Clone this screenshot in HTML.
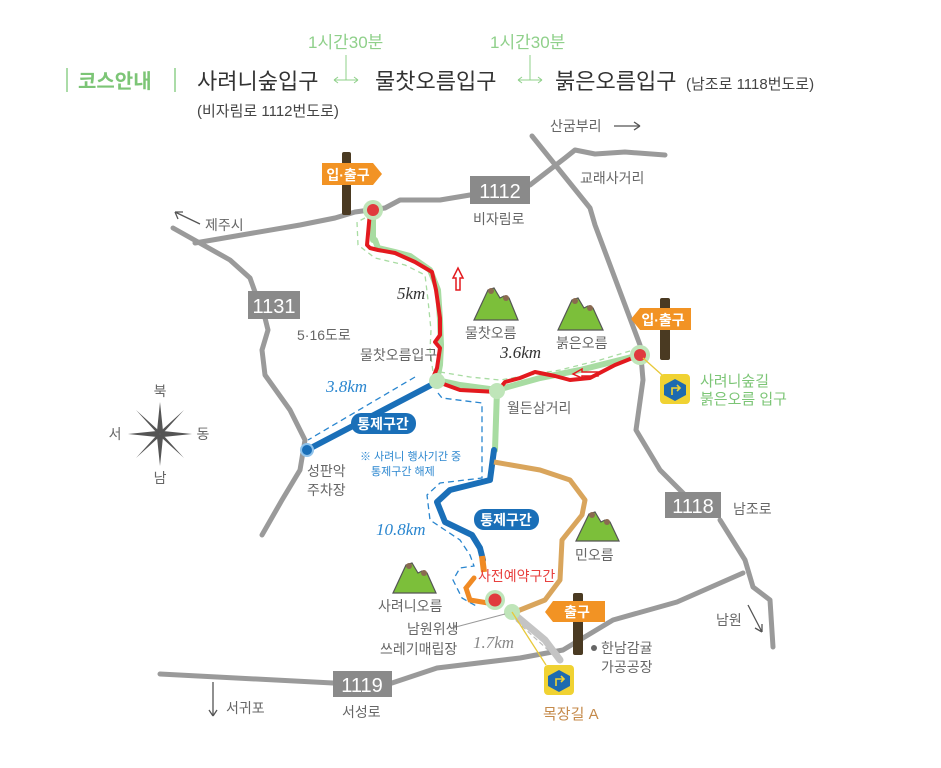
<!DOCTYPE html>
<html><head><meta charset="utf-8"><style>
html,body{margin:0;padding:0;background:#fff;}
svg{display:block;}
text{font-family:"Liberation Sans","Noto Sans CJK KR",sans-serif;}
.g{fill:#666;font-size:14px;}
.km{font-family:"Liberation Serif",serif;font-style:italic;font-size:17px;}
</style></head><body>
<svg width="941" height="768" viewBox="0 0 941 768" xmlns="http://www.w3.org/2000/svg">
<!-- header -->
<line x1="67" y1="68" x2="67" y2="92" stroke="#8fd08a" stroke-width="1.5"/>
<text x="78" y="88" font-size="20" fill="#7cc576" font-weight="bold">코스안내</text>
<line x1="175" y1="68" x2="175" y2="92" stroke="#8fd08a" stroke-width="1.5"/>
<text x="197" y="89" font-size="22" fill="#333">사려니숲입구</text>
<text x="197" y="116" font-size="15" fill="#444">(비자림로 1112번도로)</text>
<text x="308" y="48" font-size="17" fill="#8fd08a">1시간30분</text>
<line x1="346" y1="55" x2="346" y2="80" stroke="#8fd08a"/>
<path d="M334 80 H358 M334 80 l4 -3 M334 80 l4 3 M358 80 l-4 -3 M358 80 l-4 3" stroke="#8fd08a" fill="none"/>
<text x="375" y="89" font-size="22" fill="#333">물찻오름입구</text>
<text x="490" y="48" font-size="17" fill="#8fd08a">1시간30분</text>
<line x1="530" y1="55" x2="530" y2="80" stroke="#8fd08a"/>
<path d="M518 80 H542 M518 80 l4 -3 M518 80 l4 3 M542 80 l-4 -3 M542 80 l-4 3" stroke="#8fd08a" fill="none"/>
<text x="555" y="89" font-size="22" fill="#333">붉은오름입구</text>
<text x="686" y="89" font-size="15" fill="#444">(남조로 1118번도로)</text>

<!-- roads -->
<g fill="none" stroke="#9a9a9a" stroke-width="5" stroke-linejoin="round" stroke-linecap="round">
<path d="M195 243 L300 225 L335 218 L355 212 L385 208 L400 200 L440 200 L470 195"/>
<path d="M530 185 L552 168 L565 158 L575 150 L595 154 L625 152 L665 155"/>
<path d="M532 136 L590 208 L595 225 L640 345 L643 380 L636 430 L660 470 L700 510"/>
<path d="M720 520 L745 560 L753 587 L770 600 L773 647"/>
<path d="M173 228 L230 260 L250 278 L255 292"/>
<path d="M265 318 L268 330 L262 350 L265 375 L290 410 L305 440 L300 470 L282 500 L262 535"/>
<path d="M160 674 L333 683"/>
<path d="M392 683 L437 668 L520 658 L563 650 L613 620 L677 602 L743 573"/>
</g>
<path d="M515 615 L545 640 L560 660" stroke="#c4c4c4" stroke-width="7" fill="none" stroke-linecap="round"/>
<path d="M510 615 L548 650" stroke="#bbb" stroke-width="1.2" stroke-dasharray="5 3" fill="none"/>
<!-- arrows -->
<path d="M175 212 L200 224 M175 212 l8 0 M175 212 l3 7" stroke="#555" stroke-width="1.3" fill="none"/>
<text x="205" y="230" class="g">제주시</text>
<path d="M614 126 H640 M640 126 l-6 -4 M640 126 l-6 4" stroke="#555" stroke-width="1.3" fill="none"/>
<text x="550" y="131" class="g">산굼부리</text>
<text x="580" y="183" class="g">교래사거리</text>
<path d="M213 682 V716 M213 716 l-4 -6 M213 716 l4 -6" stroke="#555" stroke-width="1.3" fill="none"/>
<text x="226" y="713" class="g">서귀포</text>
<path d="M748 605 L762 632 M762 632 l0 -8 M762 632 l-7 -4" stroke="#555" stroke-width="1.3" fill="none"/>
<text x="716" y="625" class="g">남원</text>

<!-- road signs -->
<rect x="470" y="176" width="60" height="28" fill="#8a8a8a"/>
<text x="500" y="198" text-anchor="middle" font-size="20" fill="#fff">1112</text>
<text x="473" y="224" class="g">비자림로</text>
<rect x="248" y="291" width="52" height="28" fill="#8a8a8a"/>
<text x="274" y="313" text-anchor="middle" font-size="20" fill="#fff">1131</text>
<text x="297" y="340" class="g">5·16도로</text>
<rect x="665" y="492" width="56" height="26" fill="#8a8a8a"/>
<text x="693" y="513" text-anchor="middle" font-size="20" fill="#fff">1118</text>
<text x="733" y="514" class="g">남조로</text>
<rect x="333" y="671" width="59" height="26" fill="#8a8a8a"/>
<text x="362" y="692" text-anchor="middle" font-size="20" fill="#fff">1119</text>
<text x="342" y="717" class="g">서성로</text>

<!-- green trail base -->
<g fill="none" stroke="#a8dca2" stroke-width="6" stroke-linecap="round" stroke-linejoin="round">
<path d="M373 210 L373 240 L375 240 L378 248 L395 252 L410 256 L430 270 L438 290 L440 320 L441 345 L440 365 L437 380 L460 385 L497 390 L540 378 L580 370 L640 355"/>
<path d="M497 390 L495 450"/>
</g>
<g fill="none" stroke="#a8dca2" stroke-width="1.3" stroke-dasharray="5 4">
<path d="M365 218 L357 222 L358 245 L375 258 L405 265 L425 275 L428 300 L431 330 L430 350 L433 372"/>
<path d="M440 372 L470 377 L500 380 L530 375 L560 370 L600 360 L640 348"/>
</g>
<!-- blue -->
<g fill="none" stroke="#1a6fb8" stroke-width="6" stroke-linecap="round" stroke-linejoin="round">
<path d="M437 382 L307 450"/>
<path d="M494 450 L490 480 L450 490 L437 502 L445 522 L472 535 L480 548 L483 560"/>
</g>
<g fill="none" stroke="#2a86cf" stroke-width="1.3" stroke-dasharray="6 4">
<path d="M415 377 L308 440"/>
<path d="M438 393 L442 398 L482 403 L482 478 L440 483 L427 495 L430 520 L460 540 L470 555 L474 566 L460 568 L453 580 L462 598 L478 607"/>
</g>
<!-- orange -->
<path d="M482 556 L484 572" stroke="#f08a24" stroke-width="6" fill="none"/>
<path d="M474 578 L466 588 L470 600 L488 603" stroke="#f08a24" stroke-width="5" fill="none" stroke-linecap="round"/>
<!-- tan -->
<path d="M494 462 L540 470 L570 480 L585 500 L582 515 L562 540 L560 580 L545 600 L515 612" fill="none" stroke="#d9a55c" stroke-width="5" stroke-linejoin="round"/>
<!-- red trail -->
<path d="M370 212 L367 245 L370 248 L378 250 L395 253 L415 262 L432 272 L436 290 L440 318 L440 335 L435 342 L440 348 L437 368 L433 378 L438 382 L460 390 L497 392 L505 382 L520 378 L535 372 L555 376 L570 380 L590 378 L615 365 L640 355" fill="none" stroke="#e3191e" stroke-width="4" stroke-linejoin="round"/>
<path d="M456 290 L456 278 L453 278 L458 268 L463 278 L460 278 L460 290 Z" fill="none" stroke="#e3191e" stroke-width="1.5"/>
<path d="M598 372 L582 372 L582 369 L573 374 L582 378 L582 376 L598 376 Z" fill="none" stroke="#e3191e" stroke-width="1.5"/>

<!-- nodes -->
<circle cx="373" cy="210" r="10" fill="#bfe5b9"/><circle cx="373" cy="210" r="6" fill="#e03a3e"/>
<circle cx="640" cy="355" r="10" fill="#bfe5b9"/><circle cx="640" cy="355" r="6" fill="#e03a3e"/>
<circle cx="495" cy="600" r="10" fill="#bfe5b9"/><circle cx="495" cy="600" r="6.5" fill="#e03a3e"/>
<circle cx="437" cy="381" r="8" fill="#bfe5b9"/>
<circle cx="497" cy="391" r="8" fill="#bfe5b9"/>
<circle cx="512" cy="612" r="8" fill="#bfe5b9"/>
<circle cx="307" cy="450" r="6" fill="#1a6fb8" stroke="#8fc2ea" stroke-width="2"/>

<!-- yellow connector lines -->
<line x1="643" y1="358" x2="662" y2="375" stroke="#e8c93a" stroke-width="1.3"/>
<line x1="512" y1="612" x2="546" y2="665" stroke="#e8c93a" stroke-width="1.3"/>
<line x1="452" y1="628" x2="505" y2="614" stroke="#999" stroke-width="1"/>

<!-- mountains -->
<g stroke="#555" stroke-width="1.2" fill="#7cbf3a">
<path d="M474 320 L488 290 L494 288 L500 298 L504 296 L509 298 L518 320 Z"/>
<path d="M558 330 L572 300 L578 298 L584 308 L588 306 L593 308 L603 330 Z"/>
<path d="M576 541 L589 514 L595 512 L601 522 L605 520 L610 522 L619 541 Z"/>
<path d="M393 593 L406 565 L412 563 L418 573 L422 571 L427 573 L436 593 Z"/>
</g>
<g fill="#8a6a50">
<circle cx="491" cy="291" r="3"/><circle cx="506" cy="298" r="3"/>
<circle cx="575" cy="301" r="3"/><circle cx="590" cy="308" r="3"/>
<circle cx="592" cy="515" r="3"/><circle cx="607" cy="522" r="3"/>
<circle cx="409" cy="566" r="3"/><circle cx="424" cy="573" r="3"/>
</g>
<text x="465" y="338" class="g">물찻오름</text>
<text x="556" y="348" class="g">붉은오름</text>
<text x="575" y="560" class="g">민오름</text>
<text x="378" y="611" class="g">사려니오름</text>

<!-- labels -->
<text x="360" y="360" class="g">물찻오름입구</text>
<text x="507" y="413" class="g">월든삼거리</text>
<text x="307" y="476" class="g">성판악</text>
<text x="307" y="495" class="g">주차장</text>
<text x="407" y="634" class="g">남원위생</text>
<text x="380" y="654" class="g">쓰레기매립장</text>
<circle cx="594" cy="648" r="3" fill="#666"/>
<text x="601" y="653" class="g">한남감귤</text>
<text x="601" y="672" class="g">가공공장</text>
<text x="397" y="299" class="km" fill="#333">5km</text>
<text x="500" y="358" class="km" fill="#333">3.6km</text>
<text x="326" y="392" class="km" fill="#2a86cf">3.8km</text>
<text x="376" y="535" class="km" fill="#2a86cf">10.8km</text>
<text x="473" y="648" class="km" fill="#888">1.7km</text>
<text x="478" y="581" font-size="14" fill="#e8413f">사전예약구간</text>
<text x="360" y="460" font-size="11" fill="#2a86cf">※ 사려니 행사기간 중</text>
<text x="371" y="475" font-size="11" fill="#2a86cf">통제구간 해제</text>

<!-- 통제구간 pills -->
<rect x="351" y="413" width="65" height="21" rx="10" fill="#1a6fb8"/>
<text x="383" y="429" text-anchor="middle" font-size="14" fill="#fff" font-weight="bold">통제구간</text>
<rect x="474" y="509" width="65" height="21" rx="10" fill="#1a6fb8"/>
<text x="506" y="525" text-anchor="middle" font-size="14" fill="#fff" font-weight="bold">통제구간</text>

<!-- signposts -->
<rect x="342" y="152" width="9" height="63" rx="2" fill="#4a3a22"/>
<path d="M322 163 H373 L382 174 L373 185 H322 Z" fill="#f29324"/>
<text x="348" y="180" text-anchor="middle" font-size="14" fill="#fff" font-weight="bold">입·출구</text>
<rect x="660" y="298" width="10" height="62" rx="2" fill="#4a3a22"/>
<path d="M691 308 H640 L631 319 L640 330 H691 Z" fill="#f29324"/>
<text x="663" y="325" text-anchor="middle" font-size="14" fill="#fff" font-weight="bold">입·출구</text>
<rect x="573" y="593" width="10" height="62" rx="2" fill="#4a3a22"/>
<path d="M605 601 H553 L545 612 L553 622 H605 Z" fill="#f29324"/>
<text x="577" y="617" text-anchor="middle" font-size="14" fill="#fff" font-weight="bold">출구</text>

<!-- yellow icons -->
<rect x="660" y="374" width="30" height="30" rx="4" fill="#f0d232"/>
<polygon points="675,379 686,385 686,395 675,401 664,395 664,385" fill="#1d6ab0"/>
<path d="M672 395 V388 H680 M677 385 l3 3 l-3 3" stroke="#f0d232" stroke-width="1.6" fill="none"/>
<text x="700" y="386" font-size="15" fill="#7cc576">사려니숲길</text>
<text x="700" y="404" font-size="15" fill="#7cc576">붉은오름 입구</text>
<rect x="544" y="665" width="30" height="30" rx="4" fill="#f0d232"/>
<polygon points="559,670 570,676 570,686 559,692 548,686 548,676" fill="#1d6ab0"/>
<path d="M556 686 V679 H564 M561 676 l3 3 l-3 3" stroke="#f0d232" stroke-width="1.6" fill="none"/>
<text x="543" y="719" font-size="15" fill="#c58a4a">목장길 A</text>

<!-- compass -->
<g transform="translate(160,434)">
<g fill="#555">
<polygon points="0,-32 3,-3 0,0 -3,-3"/><polygon points="0,32 3,3 0,0 -3,3"/>
<polygon points="-32,0 -3,-3 0,0 -3,3"/><polygon points="32,0 3,-3 0,0 3,3"/>
<polygon points="-24,-24 -2,-4 0,0 -4,-2" /><polygon points="24,-24 4,-2 0,0 2,-4"/>
<polygon points="-24,24 -4,2 0,0 -2,4"/><polygon points="24,24 2,4 0,0 4,2"/>
</g>
<text x="0" y="-38" text-anchor="middle" class="g" font-size="13">북</text>
<text x="0" y="49" text-anchor="middle" class="g" font-size="13">남</text>
<text x="-45" y="5" text-anchor="middle" class="g" font-size="13">서</text>
<text x="43" y="5" text-anchor="middle" class="g" font-size="13">동</text>
</g>
</svg>
</body></html>
